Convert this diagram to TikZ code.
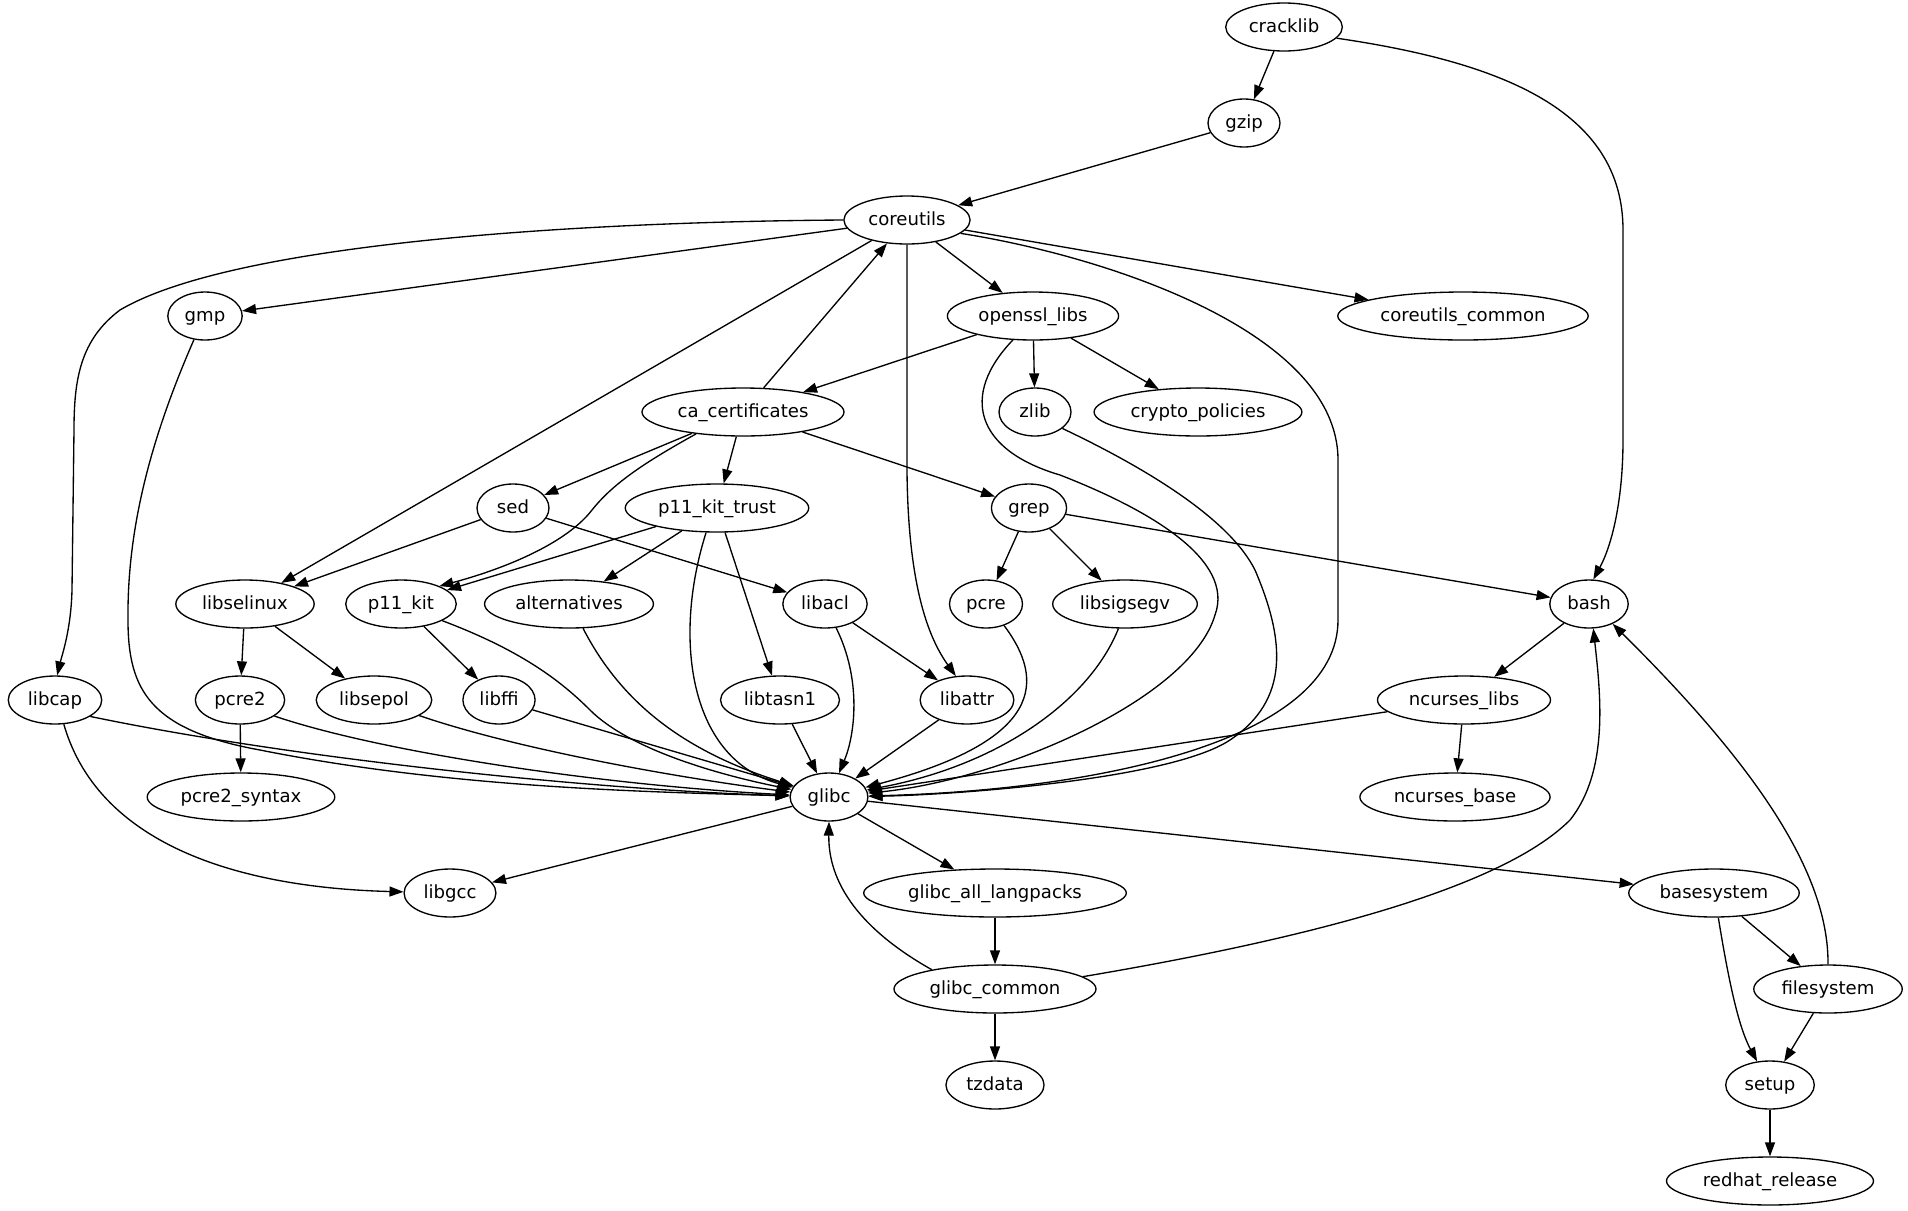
\documentclass[tikz,border=0pt]{standalone}
\usepackage{fontspec}
\setmainfont{DejaVu Sans}
\usetikzlibrary{arrows.meta,shapes.geometric}
\begin{document}
\begin{tikzpicture}[x=0.02cm,y=-0.02cm,
  pkg/.style={draw, ellipse, line width=0.76pt, minimum width=1.44cm, minimum height=0.96cm,
    inner xsep=0.12cm, inner ysep=0pt, font=\fontsize{10.3}{12}\selectfont,
    text height=8pt, text depth=2.2pt},
  dep/.style={-{Triangle[length=0.28cm,width=0.2cm]}, line width=0.76pt}]
\fill[white] (0,0) rectangle (1908,1211);
\useasboundingbox (0,0) rectangle (1908,1211);
% nodes
\node[pkg] (cracklib) at (1284,27) {cracklib};
\node[pkg] (gzip) at (1244,123) {gzip};
\node[pkg] (coreutils) at (907,220) {coreutils};
\node[pkg] (gmp) at (205,316) {gmp};
\node[pkg] (openssl) at (1033,316) {openssl\_libs};
\node[pkg] (cucommon) at (1463,316) {coreutils\_common};
\node[pkg] (cacert) at (743,412) {ca\_certificates};
\node[pkg] (zlib) at (1035,412) {zlib};
\node[pkg] (crypto) at (1198,412) {crypto\_policies};
\node[pkg] (sed) at (513,508) {sed};
\node[pkg] (pkt) at (717,508) {p11\_kit\_trust};
\node[pkg] (grep) at (1029,508) {grep};
\node[pkg] (libselinux) at (245,604) {libselinux};
\node[pkg] (pkit) at (401,604) {p11\_kit};
\node[pkg] (alternatives) at (569,604) {alternatives};
\node[pkg] (libacl) at (825,604) {libacl};
\node[pkg] (pcre) at (986,604) {pcre};
\node[pkg] (libsigsegv) at (1125,604) {libsigsegv};
\node[pkg] (bash) at (1589,604) {bash};
\node[pkg] (libcap) at (55,700) {libcap};
\node[pkg] (pcretwo) at (240,700) {pcre2};
\node[pkg] (libsepol) at (374,700) {libsepol};
\node[pkg] (libffi) at (499,700) {libffi};
\node[pkg] (libtasn) at (780,700) {libtasn1};
\node[pkg] (libattr) at (967,700) {libattr};
\node[pkg] (nclibs) at (1464,700) {ncurses\_libs};
\node[pkg] (pcresyn) at (241,797) {pcre2\_syntax};
\node[pkg] (glibc) at (829,797) {glibc};
\node[pkg] (ncbase) at (1455,797) {ncurses\_base};
\node[pkg] (libgcc) at (450,893) {libgcc};
\node[pkg] (glangs) at (995,893) {glibc\_all\_langpacks};
\node[pkg] (basesys) at (1714,893) {basesystem};
\node[pkg] (gcommon) at (995,989) {glibc\_common};
\node[pkg] (filesys) at (1828,989) {filesystem};
\node[pkg] (tzdata) at (995,1085) {tzdata};
\node[pkg] (setup) at (1770,1085) {setup};
\node[pkg] (redhat) at (1770,1181) {redhat\_release};
% edges
\draw[dep] (cracklib) -- (gzip);
\draw[dep] (cracklib.-12) .. controls (1500,62) and (1623,110) .. (1623,230) -- (1623,440) .. controls (1623,500) and (1612,545) .. (bash.80);
\draw[dep] (gzip) -- (coreutils);
\draw[dep] (coreutils) -- (gmp);
\draw[dep] (coreutils.west) .. controls (560,222) and (230,245) .. (120,310) .. controls (80,340) and (74,380) .. (74,430) -- (72,590) .. controls (71,630) and (62,655) .. (libcap.85);
\draw[dep] (coreutils) -- (libselinux);
\draw[dep] (coreutils) -- (openssl);
\draw[dep] (coreutils) -- (cucommon);
\draw[dep] (coreutils.south) -- (907,470) .. controls (908,590) and (930,640) .. (libattr.115);
\draw[dep] (coreutils.-14) .. controls (1100,255) and (1338,330) .. (1338,460) -- (1338,620) .. controls (1338,740) and (1100,790) .. (glibc);
\draw[dep] (cacert) -- (coreutils);
\draw[dep] (openssl) -- (cacert);
\draw[dep] (openssl) -- (zlib);
\draw[dep] (openssl) -- (crypto);
\draw[dep] (openssl.-130) .. controls (960,395) and (975,450) .. (1060,475) .. controls (1150,510) and (1235,560) .. (1215,615) .. controls (1190,700) and (1000,780) .. (glibc);
\draw[dep] (zlib.-31) .. controls (1150,470) and (1230,520) .. (1255,570) .. controls (1285,640) and (1290,700) .. (1230,740) .. controls (1170,780) and (950,795) .. (glibc);
\draw[dep] (cacert) -- (sed);
\draw[dep] (cacert.-155) .. controls (640,465) and (612,485) .. (592,510) .. controls (565,545) and (500,570) .. (pkit.25);
\draw[dep] (cacert) -- (pkt);
\draw[dep] (cacert) -- (grep);
\draw[dep] (sed) -- (libselinux);
\draw[dep] (sed) -- (libacl);
\draw[dep] (pkt) -- (pkit);
\draw[dep] (pkt) -- (alternatives);
\draw[dep] (pkt.-114) .. controls (672,640) and (690,760) .. (glibc);
\draw[dep] (pkt) -- (libtasn);
\draw[dep] (grep) -- (pcre);
\draw[dep] (grep) -- (libsigsegv);
\draw[dep] (grep) -- (bash);
\draw[dep] (libselinux) -- (pcretwo);
\draw[dep] (libselinux) -- (libsepol);
\draw[dep] (pkit) -- (libffi);
\draw[dep] (pkit.-22) .. controls (520,650) and (560,680) .. (590,710) .. controls (630,750) and (720,775) .. (glibc);
\draw[dep] (alternatives.-60) .. controls (620,700) and (680,750) .. (glibc);
\draw[dep] (libacl.-65) .. controls (862,680) and (855,735) .. (glibc);
\draw[dep] (libacl) -- (libattr);
\draw[dep] (pcre.-50) .. controls (1045,680) and (1045,740) .. (glibc);
\draw[dep] (libsigsegv.-105) .. controls (1090,700) and (1000,765) .. (glibc);
\draw[dep] (bash) -- (nclibs);
\draw[dep] (libcap.-25) .. controls (300,760) and (600,790) .. (glibc);
\draw[dep] (libcap.-70) .. controls (100,850) and (250,888) .. (libgcc);
\draw[dep] (pcretwo) -- (pcresyn);
\draw[dep] (pcretwo.-25) .. controls (380,752) and (600,785) .. (glibc);
\draw[dep] (libsepol.-19) .. controls (520,750) and (680,778) .. (glibc);
\draw[dep] (libffi) -- (glibc);
\draw[dep] (libtasn) -- (glibc);
\draw[dep] (libattr) -- (glibc);
\draw[dep] (nclibs) -- (glibc);
\draw[dep] (nclibs) -- (ncbase);
\draw[dep] (gmp.-115) .. controls (150,440) and (127,530) .. (128,620) .. controls (128,690) and (150,730) .. (260,750) .. controls (450,788) and (650,792) .. (glibc);
\draw[dep] (glibc) -- (libgcc);
\draw[dep] (glibc) -- (glangs);
\draw[dep] (glibc) -- (basesys);
\draw[dep] (glangs) -- (gcommon);
\draw[dep] (gcommon.163) .. controls (870,935) and (828,890) .. (glibc.south);
\draw[dep] (gcommon.8) .. controls (1300,940) and (1500,890) .. (1570,820) .. controls (1610,770) and (1600,690) .. (bash.-80);
\draw[dep] (gcommon) -- (tzdata);
\draw[dep] (basesys) -- (filesys);
\draw[dep] (basesys.-80) .. controls (1730,990) and (1740,1030) .. (setup);
\draw[dep] (filesys.north) .. controls (1829,870) and (1750,760) .. (bash.-40);
\draw[dep] (filesys) -- (setup);
\draw[dep] (setup) -- (redhat);
\end{tikzpicture}
\end{document}
